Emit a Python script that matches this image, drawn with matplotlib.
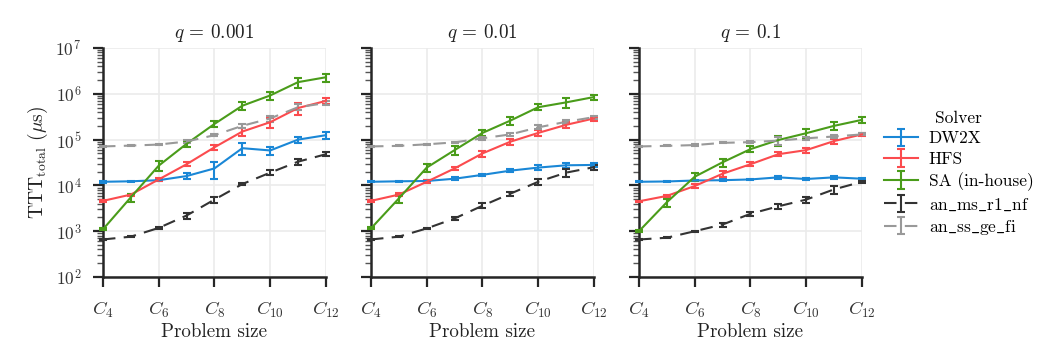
import numpy as np
import matplotlib
matplotlib.use("Agg")
import matplotlib.pyplot as plt

plt.rcParams['font.family'] = ['cmr10', 'DejaVu Serif']
plt.rcParams['mathtext.fontset'] = 'cm'
plt.rcParams['axes.formatter.use_mathtext'] = True
plt.rcParams['axes.unicode_minus'] = False

# data: problem sizes C4..C12, one list per q panel
sizes = [4, 5, 6, 7, 8, 9, 10, 11, 12]
q_values = ["0.001", "0.01", "0.1"]
solvers = ["DW2X", "HFS", "SA (in-house)",
           r"$\mathrm{an\_ms\_r1\_nf}$", r"$\mathrm{an\_ss\_ge\_fi}$"]

dw2x = [[1.2e4, 1.23e4, 1.3e4, 1.6e4, 2.35e4, 6.5e4, 5.8e4, 1.0e5, 1.25e5],
        [1.2e4, 1.23e4, 1.25e4, 1.4e4, 1.7e4, 2.1e4, 2.45e4, 2.75e4, 2.8e4],
        [1.2e4, 1.22e4, 1.28e4, 1.3e4, 1.35e4, 1.5e4, 1.38e4, 1.5e4, 1.4e4]]
hfs = [[4.6e3, 6.3e3, 1.35e4, 2.9e4, 6.8e4, 1.5e5, 2.4e5, 4.9e5, 7.0e5],
       [4.6e3, 6.3e3, 1.2e4, 2.35e4, 5.0e4, 9.0e4, 1.4e5, 2.1e5, 2.9e5],
       [4.5e3, 5.9e3, 9.7e3, 1.8e4, 2.9e4, 4.8e4, 5.9e4, 9.3e4, 1.3e5]]
sa = [[1.1e3, 5.5e3, 2.7e4, 8.1e4, 2.2e5, 5.5e5, 9.2e5, 1.8e6, 2.3e6],
      [1.15e3, 5.2e3, 2.45e4, 5.9e4, 1.4e5, 2.6e5, 5.1e5, 6.5e5, 8.5e5],
      [1.0e3, 4.3e3, 1.55e4, 3.2e4, 6.2e4, 9.8e4, 1.38e5, 2.0e5, 2.7e5]]
an_ms = [[6.6e2, 7.6e2, 1.18e3, 2.2e3, 4.9e3, 1.07e4, 1.9e4, 3.3e4, 4.8e4],
         [6.6e2, 7.6e2, 1.15e3, 1.9e3, 3.6e3, 6.6e3, 1.2e4, 1.9e4, 2.5e4],
         [6.6e2, 7.2e2, 1.0e3, 1.4e3, 2.4e3, 3.5e3, 4.9e3, 8.2e3, 1.2e4]]
an_ss = [[7.1e4, 7.4e4, 7.8e4, 9.1e4, 1.25e5, 2.0e5, 2.9e5, 5.1e5, 6.3e5],
         [7.1e4, 7.3e4, 7.9e4, 8.7e4, 1.07e5, 1.3e5, 1.85e5, 2.45e5, 3.1e5],
         [7.1e4, 7.3e4, 7.6e4, 8.5e4, 8.8e4, 9.5e4, 1.07e5, 1.17e5, 1.3e5]]

# relative error bar half-widths
dw2x_err = [[0.04, 0.03, 0.05, 0.15, 0.4, 0.3, 0.2, 0.15, 0.18],
            [0.03, 0.03, 0.03, 0.08, 0.06, 0.06, 0.12, 0.12, 0.08],
            [0.03, 0.03, 0.03, 0.04, 0.04, 0.06, 0.04, 0.06, 0.04]]
hfs_err = [[0.04, 0.05, 0.08, 0.1, 0.12, 0.2, 0.25, 0.3, 0.15],
           [0.04, 0.08, 0.08, 0.08, 0.15, 0.15, 0.15, 0.15, 0.1],
           [0.04, 0.06, 0.08, 0.15, 0.1, 0.1, 0.12, 0.12, 0.08]]
sa_err = [[0.05, 0.2, 0.25, 0.15, 0.15, 0.2, 0.2, 0.25, 0.2],
          [0.05, 0.2, 0.2, 0.2, 0.15, 0.2, 0.15, 0.25, 0.12],
          [0.05, 0.2, 0.2, 0.2, 0.15, 0.25, 0.25, 0.2, 0.15]]
an_ms_err = [[0.03, 0.03, 0.03, 0.15, 0.15, 0.06, 0.12, 0.15, 0.1],
             [0.03, 0.03, 0.03, 0.06, 0.12, 0.1, 0.15, 0.2, 0.12],
             [0.03, 0.03, 0.03, 0.1, 0.1, 0.12, 0.15, 0.2, 0.06]]
an_ss_err = [[0.03, 0.03, 0.03, 0.06, 0.06, 0.12, 0.15, 0.15, 0.1],
             [0.03, 0.03, 0.03, 0.04, 0.06, 0.1, 0.1, 0.1, 0.08],
             [0.03, 0.03, 0.03, 0.03, 0.04, 0.2, 0.06, 0.06, 0.05]]

series = [dw2x, hfs, sa, an_ms, an_ss]
errors = [dw2x_err, hfs_err, sa_err, an_ms_err, an_ss_err]
colors = ["#1a87d6", "#fb4b4e", "#4a9c1a", "#333333", "#999999"]
dashed = [False, False, False, True, True]

fig = plt.figure(figsize=(10.38, 3.46), dpi=100)
lefts = [0.0992, 0.3574, 0.6156]
axes = [fig.add_axes([l, 0.1994, 0.2148, 0.6618]) for l in lefts]

for i, ax in enumerate(axes):
    for s in range(len(solvers)):
        y = np.array(series[s][i])
        e = np.array(errors[s][i]) * y
        kw = dict(color=colors[s], lw=1.5, capsize=3, capthick=1.5,
                  elinewidth=1.5, label=solvers[s], clip_on=False, zorder=3)
        if dashed[s]:
            kw['dashes'] = (6, 4)
        ax.errorbar(sizes, y, yerr=e, **kw)
    ax.set_yscale('log')
    ax.set_ylim(1e2, 1e7)
    ax.set_xlim(4, 12)
    ax.set_xticks([4, 6, 8, 10, 12])
    ax.set_xticklabels([r"$C_{%d}$" % k for k in [4, 6, 8, 10, 12]])
    ax.set_yticks([1e2, 1e3, 1e4, 1e5, 1e6, 1e7])
    ax.grid(True, which='major', color='#ebebeb', lw=1.2, zorder=0)
    ax.set_axisbelow(True)
    for sp in ['top', 'right']:
        ax.spines[sp].set_visible(False)
    for sp in ['left', 'bottom']:
        ax.spines[sp].set_linewidth(1.8)
        ax.spines[sp].set_color('#262626')
    ax.tick_params(which='major', length=7.5, width=1.6, color='#262626',
                   labelcolor='#333333')
    ax.tick_params(axis='x', pad=9, labelsize=13.5)
    ax.tick_params(axis='y', pad=8, labelsize=12.5)
    ax.tick_params(which='minor', length=4, width=1.0, color='#555555')
    ax.set_title(r"$q$ = " + q_values[i], fontsize=13.8, color='#222222', pad=7)
    ax.set_xlabel("Problem size", fontsize=13.7, color='#222222', labelpad=2)
    if i == 0:
        ax.set_ylabel(r"TTT$_{\mathrm{total}}$ ($\mu$s)", fontsize=14, color='#222222')
    else:
        ax.set_yticklabels([])

leg = axes[2].legend(loc='upper left', bbox_to_anchor=(1.027, 0.795), frameon=False,
                     title="Solver", fontsize=12.5, title_fontsize=12.5,
                     handlelength=2.0, handletextpad=0.6, labelspacing=0.3)

fig.savefig("out.png", dpi=100)
